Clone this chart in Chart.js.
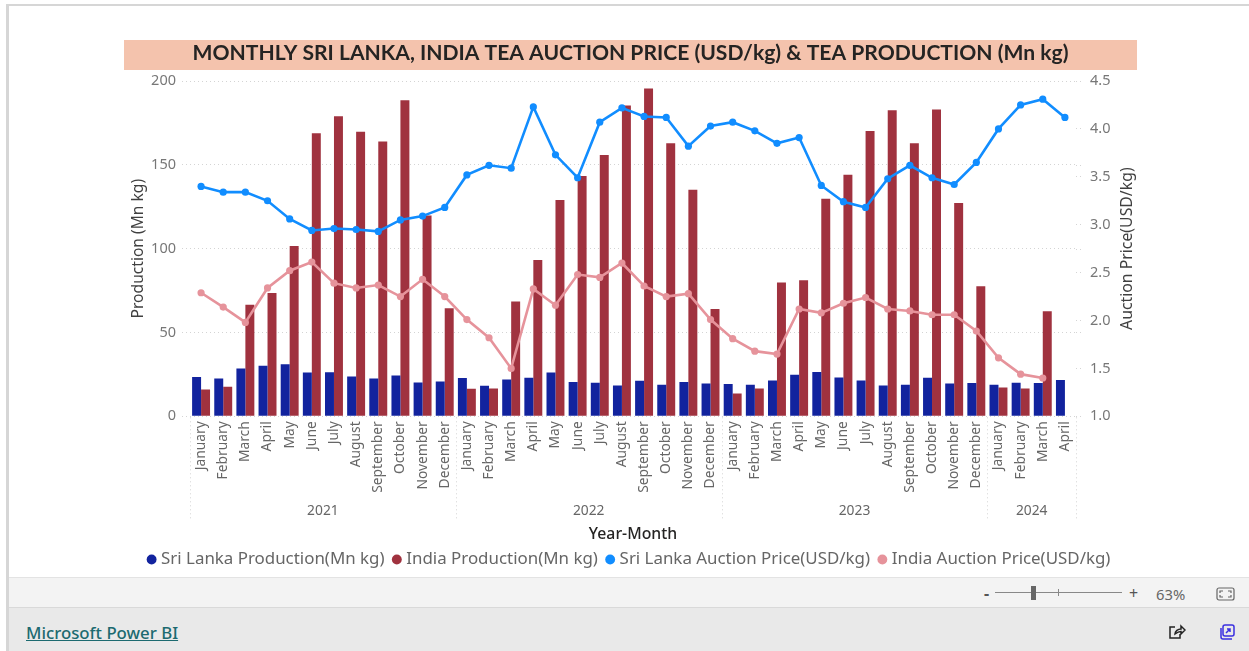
<!DOCTYPE html>
<html>
<head>
<meta charset="utf-8">
<title>Tea auction price and production</title>
<script src="https://cdn.jsdelivr.net/npm/chart.js@4"></script>
<style>
  html, body { margin: 0; padding: 0; width: 1249px; height: 651px; overflow: hidden; background: #fff; font-family: "Noto Sans", sans-serif; }
  .frame { position: absolute; left: 6px; top: 4px; width: 1300px; height: 660px; border: 2px solid #d6d6d6; border-left-width: 3px; border-right: 0; box-sizing: content-box; }
  .band { position: absolute; left: 124px; top: 40px; width: 1013px; height: 30px; background: #f4c3ad; }
  #chart { position: absolute; left: 0; top: 0; }
  .zoombar { position: absolute; left: 9px; right: 0; top: 577px; height: 29px; background: #f3f3f3; border-top: 1px solid #e3e3e3; border-bottom: 2px solid #d9d9d9; }
  .footer { position: absolute; left: 9px; right: 0; top: 608px; height: 43px; background: #e9e9e9; }
  .link { position: absolute; left: 26px; top: 621px; font-size: 16.8px; font-weight: 500; color: #1c6a70; text-decoration: underline; }
  .pct { position: absolute; left: 1156px; top: 584px; font-size: 14.8px; color: #666; }
  .sym { position: absolute; top: 582px; font-size: 16px; color: #555; }
  .track { position: absolute; left: 995px; top: 592px; width: 127px; height: 1px; background: #888; }
  .mark { position: absolute; left: 1058px; top: 589px; width: 1px; height: 7px; background: #888; }
  .handle { position: absolute; left: 1031px; top: 586px; width: 5px; height: 14px; background: #666; }
  svg { position: absolute; }
</style>
</head>
<body>
<div class="frame"></div>
<div class="band"></div>
<canvas id="chart" width="1249" height="578"></canvas>
<div class="zoombar"></div>
<div class="footer"></div>
<a class="link">Microsoft Power BI</a>
<span class="sym" style="left:984px;font-weight:700">-</span>
<div class="track"></div><div class="mark"></div><div class="handle"></div>
<span class="sym" style="left:1129px">+</span>
<span class="pct">63%</span>
<svg style="left:1216px;top:587px" width="19" height="14" viewBox="0 0 19 14" fill="none" stroke="#666" stroke-width="1.2"><rect x="1" y="1" width="17" height="12" rx="2"/><path d="M4 6V4h3M12 4h3v2M15 8v2h-3M7 10H4V8"/></svg>
<svg style="left:1168px;top:624px" width="18" height="16" viewBox="0 0 18 16" fill="none" stroke="#222" stroke-width="1.5"><path d="M7 3H2v11h10v-4"/><path d="M7 10c0-3 3-5 6-5V2l4 4-4 4V7.500c-2 0-4 1-6 2.500z"/></svg>
<svg style="left:1219px;top:624px" width="16" height="16" viewBox="0 0 16 16" fill="none" stroke="#3a2fe0" stroke-width="1.5"><rect x="4" y="1" width="11" height="11" rx="2"/><path d="M2 4v9a2 2 0 0 0 2 2h9"/><path d="M7 9l4-4M8 5h3v3"/></svg>
<script>
const months = ['January','February','March','April','May','June','July','August','September','October','November','December',
  'January','February','March','April','May','June','July','August','September','October','November','December',
  'January','February','March','April','May','June','July','August','September','October','November','December',
  'January','February','March','April'];
const yearLabels = ['2021','2022','2023','2024'];
const yearMidpoints = [5.5, 17.5, 29.5, 37.5];
const yearEdges = [-0.5, 11.5, 23.5, 35.5, 39.5];

const sriLankaProduction = [23.4,22.6,28.5,30.1,31.1,26.1,26.3,23.8,22.6,24.4,20.2,20.8,
  22.8,18.2,22,23,26.1,20.4,20,18.4,21.2,18.8,20.4,19.6,
  19.2,18.8,21.4,24.8,26.5,23.2,21.4,18.4,18.8,23,19.6,19.8,
  18.8,20,19.8,21.6];
const indiaProduction = [16,17.6,66.5,73.5,101.6,168.9,179,169.7,163.9,188.6,119.8,64.5,
  16.4,16.6,68.5,93.2,129.1,143.3,155.9,185.4,195.6,162.9,135.1,64,
  13.6,16.6,79.8,81.2,129.7,144.1,170.2,182.6,162.9,183,127.3,77.6,
  17.2,16.6,62.7,null];
const sriLankaPrice = [3.40,3.34,3.34,3.25,3.06,2.94,2.96,2.95,2.93,3.05,3.09,3.18,
  3.52,3.62,3.59,4.23,3.73,3.49,4.07,4.22,4.13,4.12,3.82,4.03,
  4.07,3.98,3.85,3.91,3.41,3.24,3.18,3.48,3.62,3.49,3.42,3.65,
  4.00,4.25,4.31,4.12];
const indiaPrice = [2.29,2.14,1.98,2.34,2.52,2.61,2.39,2.34,2.37,2.25,2.43,2.25,
  2.01,1.82,1.50,2.33,2.16,2.48,2.45,2.60,2.36,2.25,2.28,2.01,
  1.81,1.68,1.65,2.12,2.08,2.18,2.24,2.12,2.10,2.06,2.06,1.89,
  1.61,1.44,1.40,null];

const fontName = '"Noto Sans", sans-serif';
const gridColor = '#d4d4d4';
const rightAxisTitle = 'Auction Price(USD/kg)';

// dotted year separators, grid stubs past the plot, and the right axis title
// (Chart.js always turns a right axis title the other way round)
const axisExtras = {
  id: 'axisExtras',
  afterDraw(chart) {
    const ctx = chart.ctx;
    const area = chart.chartArea;
    const x2 = chart.scales.x2;
    const y1 = chart.scales.y1;
    ctx.save();
    ctx.strokeStyle = gridColor;
    ctx.setLineDash([1, 3]);
    yearEdges.forEach(edge => {
      const x = Math.round(x2.getPixelForValue(edge)) + 0.5;
      ctx.beginPath();
      ctx.moveTo(x, area.bottom + 1);
      ctx.lineTo(x, x2.top + 27);
      ctx.stroke();
    });
    chart.scales.y.ticks.forEach(tick => {
      const y = Math.round(chart.scales.y.getPixelForValue(tick.value)) + 0.5;
      ctx.beginPath();
      ctx.moveTo(area.right, y);
      ctx.lineTo(area.right + 8, y);
      ctx.stroke();
    });
    ctx.setLineDash([]);
    ctx.translate(y1.right - 9, (area.top + area.bottom) / 2);
    ctx.rotate(-Math.PI / 2);
    ctx.textAlign = 'center';
    ctx.textBaseline = 'middle';
    ctx.fillStyle = '#404040';
    ctx.font = '15.8px ' + fontName;
    ctx.fillText(rightAxisTitle, 0, 0);
    ctx.restore();
  }
};

new Chart(document.getElementById('chart').getContext('2d'), {
  data: {
    labels: months,
    datasets: [
      { type: 'bar', label: 'Sri Lanka Production(Mn kg)', data: sriLankaProduction, yAxisID: 'y', xAxisID: 'x', backgroundColor: '#12239e', order: 2 },
      { type: 'bar', label: 'India Production(Mn kg)', data: indiaProduction, yAxisID: 'y', xAxisID: 'x', backgroundColor: '#a0323f', order: 2 },
      { type: 'line', label: 'Sri Lanka Auction Price(USD/kg)', data: sriLankaPrice, yAxisID: 'y1', xAxisID: 'x', borderColor: '#118dff', backgroundColor: '#118dff', borderWidth: 2.6, pointRadius: 3.6, pointBorderWidth: 0, tension: 0, order: 1 },
      { type: 'line', label: 'India Auction Price(USD/kg)', data: indiaPrice, yAxisID: 'y1', xAxisID: 'x', borderColor: '#e6939b', backgroundColor: '#e6939b', borderWidth: 2.6, pointRadius: 3.6, pointBorderWidth: 0, tension: 0, order: 1 }
    ]
  },
  options: {
    responsive: false,
    animation: false,
    layout: { padding: { top: 38, left: 125, right: 113, bottom: 0 } },
    datasets: { bar: { barPercentage: 1, categoryPercentage: 0.81 } },
    plugins: {
      title: {
        display: true,
        text: 'MONTHLY SRI LANKA, INDIA TEA AUCTION PRICE (USD/kg) & TEA PRODUCTION (Mn kg)',
        color: '#252423',
        font: { family: 'Lato, sans-serif', size: 21.1, weight: 'bold' },
        padding: { top: 3, bottom: 14.7 }
      },
      legend: {
        position: 'bottom',
        labels: {
          usePointStyle: true,
          pointStyle: 'circle',
          boxWidth: 2,
          boxHeight: 7,
          padding: 11.3,
          color: '#666666',
          font: { family: fontName, size: 16.9 },
          sort: (a, b) => a.datasetIndex - b.datasetIndex
        }
      },
      tooltip: { enabled: false }
    },
    scales: {
      x: {
        position: 'bottom',
        weight: 0,
        offset: true,
        border: { display: false },
        grid: { display: false, drawTicks: false },
        ticks: {
          autoSkip: false,
          minRotation: 90,
          maxRotation: 90,
          padding: 5,
          color: '#666666',
          font: { family: fontName, size: 13.8 }
        },
        afterFit(scale) { scale.height = 78; }
      },
      x2: {
        type: 'linear',
        position: 'bottom',
        weight: 1,
        min: -0.5,
        max: 39.5,
        border: { display: false },
        grid: { display: false },
        afterBuildTicks(scale) { scale.ticks = yearMidpoints.map(value => ({ value })); },
        afterFit(scale) { scale.height = 45.5; },
        ticks: {
          autoSkip: false,
          maxRotation: 0,
          padding: 0,
          color: '#666666',
          font: { family: fontName, size: 13.8 },
          callback: (value) => yearLabels[yearMidpoints.indexOf(value)]
        },
        title: {
          display: true,
          text: 'Year-Month',
          color: '#252423',
          font: { family: fontName, size: 15.8, weight: 500 },
          padding: { top: 6, bottom: -4 }
        }
      },
      y: {
        position: 'left',
        min: 0,
        max: 200,
        border: { display: false, dash: [1, 3] },
        grid: { color: gridColor, tickLength: 8, tickBorderDash: [1, 3] },
        afterFit(scale) { scale.width = 65; },
        ticks: { stepSize: 50, padding: 6, color: '#777777', font: { family: fontName, size: 14.5 } },
        title: {
          display: true,
          text: 'Production (Mn kg)',
          color: '#404040',
          font: { family: fontName, size: 15.6 },
          padding: { top: 4, bottom: 0 }
        }
      },
      y1: {
        position: 'right',
        min: 1,
        max: 4.5,
        border: { display: false },
        grid: { drawOnChartArea: false, color: gridColor, tickLength: 8, tickBorderDash: [1, 3] },
        afterFit(scale) { scale.width = 60; },
        ticks: {
          stepSize: 0.5,
          padding: 6,
          color: '#777777',
          font: { family: fontName, size: 14.5 },
          callback: value => value.toFixed(1)
        }
      }
    }
  },
  plugins: [axisExtras]
});
</script>
</body>
</html>
